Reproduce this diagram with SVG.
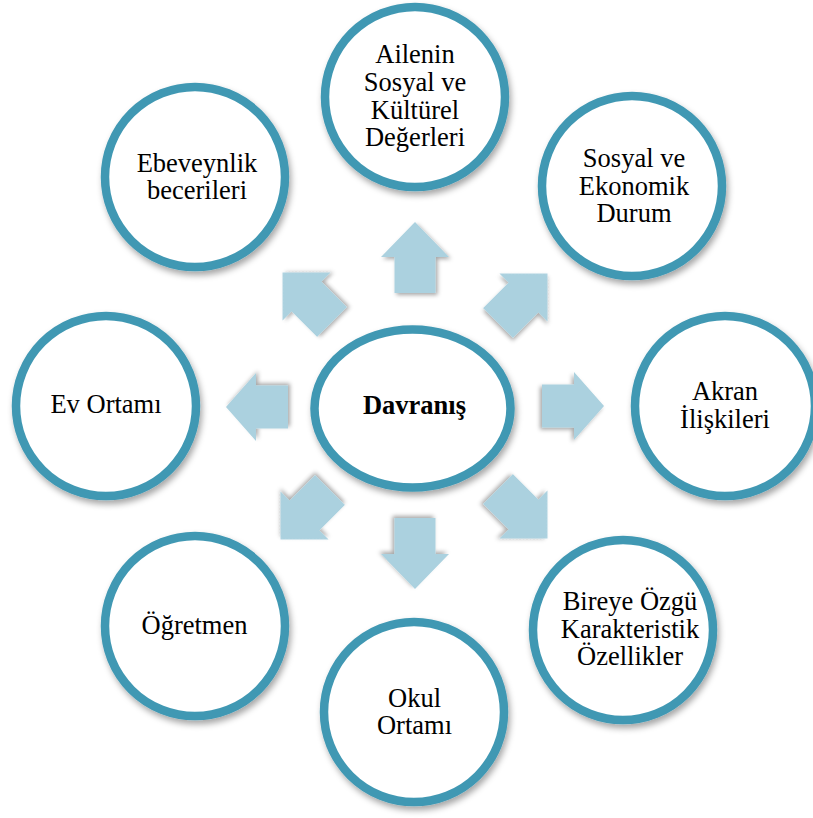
<svg xmlns="http://www.w3.org/2000/svg" width="813" height="818" viewBox="0 0 813 818">
<defs>
<filter id="cs" x="-20%" y="-20%" width="140%" height="140%">
<feDropShadow dx="2" dy="4" stdDeviation="3" flood-color="#000" flood-opacity="0.35"/>
</filter>
<filter id="as" x="-30%" y="-30%" width="160%" height="160%">
<feDropShadow dx="-2" dy="2" stdDeviation="2" flood-color="#000" flood-opacity="0.35"/>
</filter>
<polygon id="arrV" points="0,-20.5 36,-20.5 36,-34 71,0 36,34 36,20.5 0,20.5"/>
<polygon id="arrH" points="0,-21.5 32,-21.5 32,-34 62,0 32,34 32,21.5 0,21.5"/>
<polygon id="arrD" points="0,-21 36,-21 36,-34 70,0 36,34 36,21 0,21"/>
</defs>
<style>
.node circle, .node ellipse { fill:#fff; stroke:#4198B3; stroke-width:8.5; filter:url(#cs); }
text { font-family:'Liberation Serif', 'Times New Roman', Times, serif; font-size:26.5px; fill:#000; text-anchor:middle; }
.b { font-weight:bold; }
.arr use { fill:#ABD1DF; filter:url(#as); }
</style>
<rect width="813" height="818" fill="#fff"/>
<g id="connectors" class="arr">
<use href="#arrV" transform="translate(415,293) rotate(-90)"/>
<use href="#arrV" transform="translate(415,518) rotate(90)"/>
<use href="#arrH" transform="translate(288,407) rotate(180)"/>
<use href="#arrH" transform="translate(542,406)"/>
<use href="#arrD" transform="translate(332,322) rotate(-135)"/>
<use href="#arrD" transform="translate(498,323) rotate(-45)"/>
<use href="#arrD" transform="translate(330,490) rotate(135)"/>
<use href="#arrD" transform="translate(498,489) rotate(45)"/>
</g>
<g id="n-center" class="node">
<ellipse cx="412.5" cy="408.5" rx="98" ry="79"/>
<text class="b" x="414.5" y="414">Davranış</text>
</g>
<g id="n-aile" class="node">
<circle cx="415" cy="97" r="90"/>
<text x="415" y="63">Ailenin</text>
<text x="415" y="91">Sosyal ve</text>
<text x="415" y="118.5">Kültürel</text>
<text x="415" y="146">Değerleri</text>
</g>
<g id="n-sosyal" class="node">
<circle cx="632" cy="186" r="90"/>
<text x="634" y="167">Sosyal ve</text>
<text x="634" y="194.5">Ekonomik</text>
<text x="634" y="222">Durum</text>
</g>
<g id="n-akran" class="node">
<circle cx="725" cy="406" r="90"/>
<text x="725" y="400">Akran</text>
<text x="725" y="427.7">İlişkileri</text>
</g>
<g id="n-birey" class="node">
<circle cx="623" cy="630" r="90"/>
<text x="630" y="610">Bireye Özgü</text>
<text x="630" y="637.5">Karakteristik</text>
<text x="630" y="665">Özellikler</text>
</g>
<g id="n-okul" class="node">
<circle cx="414" cy="712" r="90"/>
<text x="414.5" y="706.5">Okul</text>
<text x="414.5" y="734">Ortamı</text>
</g>
<g id="n-ogretmen" class="node">
<circle cx="195" cy="626" r="90"/>
<text x="194.5" y="634">Öğretmen</text>
</g>
<g id="n-ev" class="node">
<circle cx="106" cy="406" r="90"/>
<text x="106" y="413">Ev Ortamı</text>
</g>
<g id="n-ebeveyn" class="node">
<circle cx="195" cy="177" r="90"/>
<text x="197" y="171.5">Ebeveynlik</text>
<text x="197" y="199">becerileri</text>
</g>
</svg>
